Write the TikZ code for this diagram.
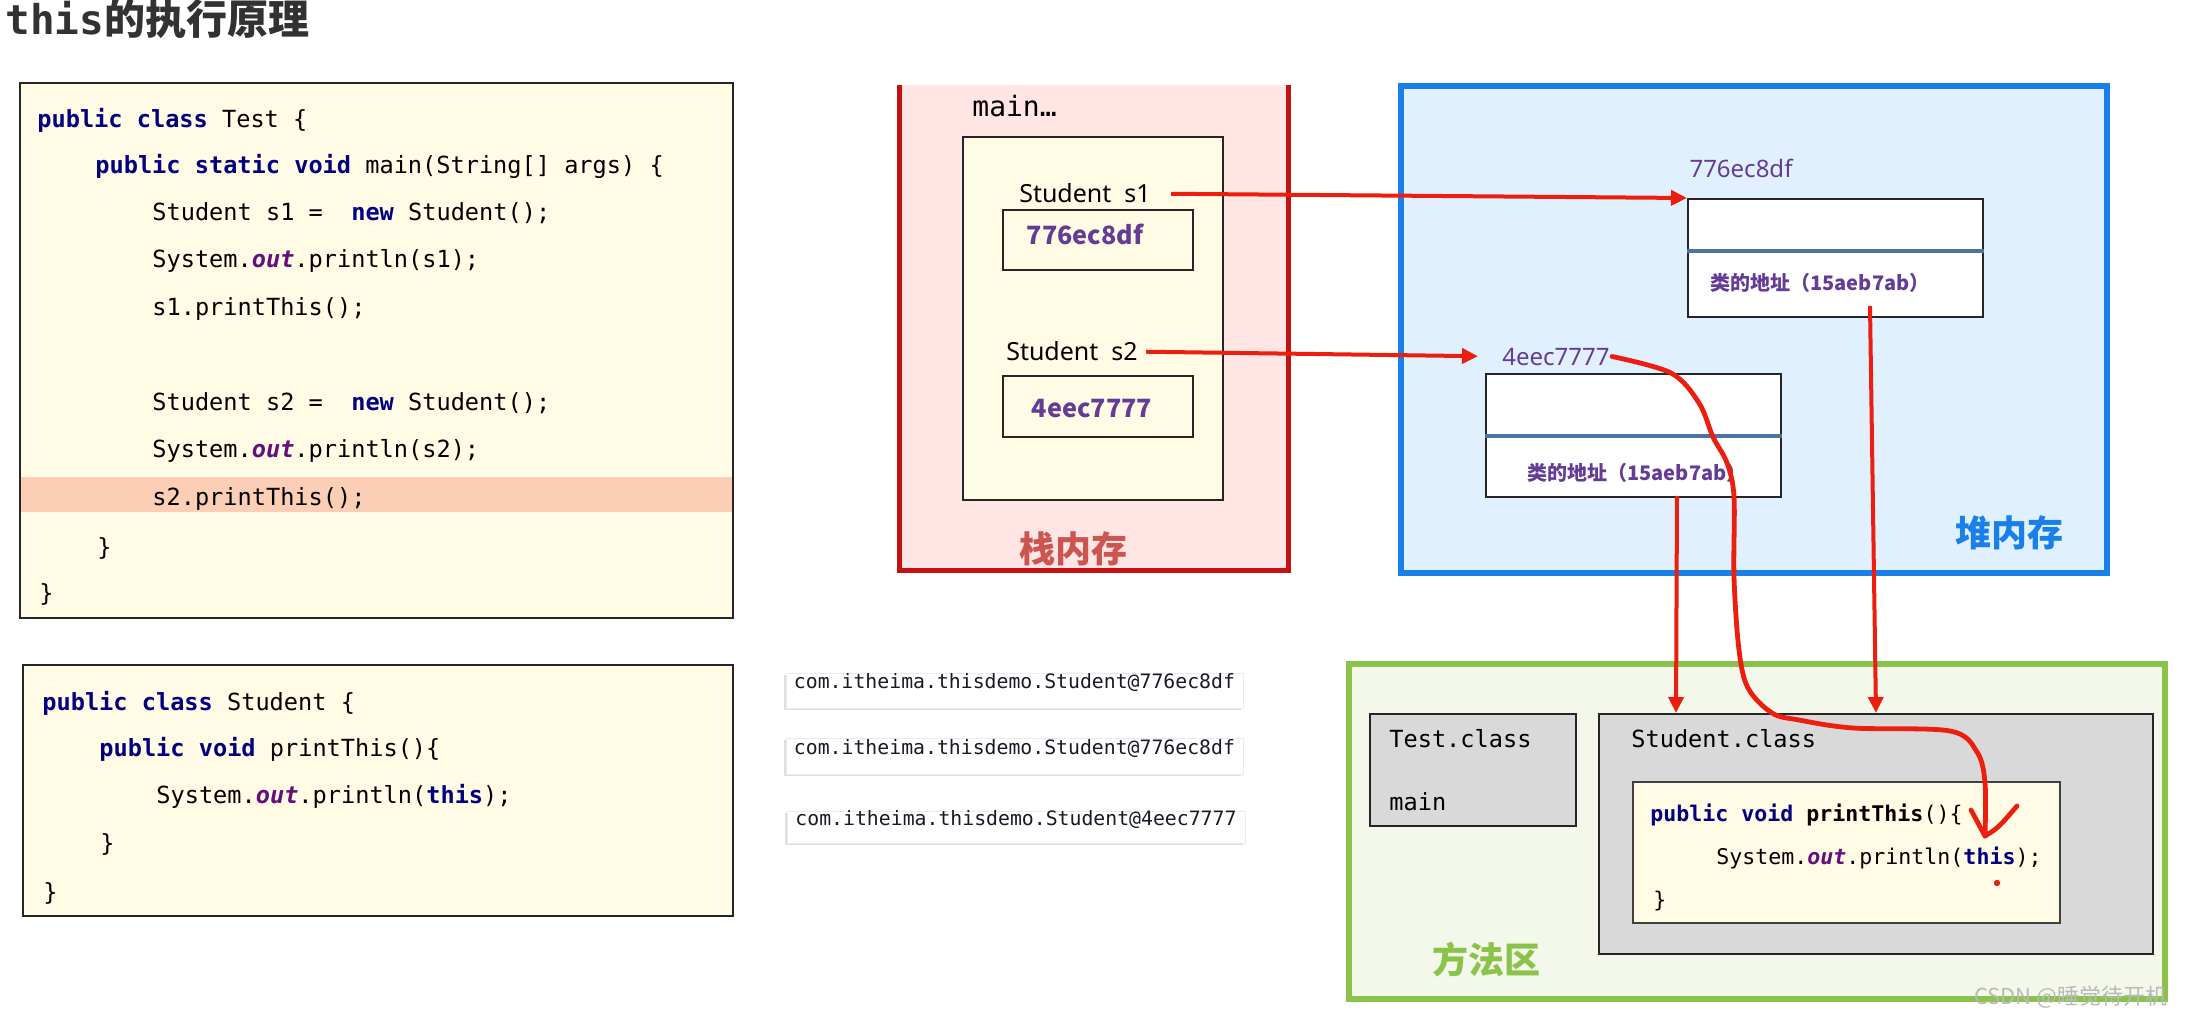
\documentclass[tikz,border=0pt]{standalone}
\usepackage{fontspec}
\setmainfont{Noto Sans}
\setmonofont{DejaVu Sans Mono}
\newfontfamily\cjk{Noto Sans CJK SC}
\usetikzlibrary{arrows.meta,fit,calc,shadows}

\definecolor{codeyellow}{RGB}{255,251,229}
\definecolor{hlpink}{RGB}{252,206,182}
\definecolor{stackpink}{RGB}{255,229,227}
\definecolor{stackred}{RGB}{196,18,18}
\definecolor{stacktext}{RGB}{205,85,80}
\definecolor{heapblue}{RGB}{24,128,232}
\definecolor{heapfill}{RGB}{224,240,255}
\definecolor{methgreen}{RGB}{139,195,74}
\definecolor{methfill}{RGB}{243,248,235}
\definecolor{clsgray}{RGB}{217,217,217}
\definecolor{divblue}{RGB}{79,115,160}
\definecolor{kwnavy}{RGB}{0,0,128}
\definecolor{fieldpurple}{RGB}{102,14,122}
\definecolor{addrpurple}{RGB}{100,60,150}
\definecolor{arrred}{RGB}{235,30,15}
\definecolor{titlegray}{RGB}{50,50,50}
\definecolor{outtext}{RGB}{25,25,40}

\newcommand{\codefont}{\ttfamily\fontsize{11.8}{14}\selectfont}
\newcommand{\smallcode}{\ttfamily\fontsize{10.8}{13}\selectfont}
\newcommand{\kw}[1]{\textcolor{kwnavy}{\bfseries #1}}
\newcommand{\fld}[1]{\textcolor{fieldpurple}{\bfseries\itshape #1}}

\begin{document}
\begin{tikzpicture}[x=0.5pt,y=-0.5pt]
    \tikzstyle{box}=[inner sep=0pt, line width=1pt, draw=black!85]
    \tikzstyle{code box}=[box, fill=codeyellow]
    \tikzstyle{codeline}=[anchor=base west, inner sep=0pt, font=\codefont]
    \tikzstyle{small codeline}=[anchor=base west, inner sep=0pt, font=\smallcode]
    \tikzstyle{out box}=[inner sep=0pt, fill=white, draw=black!8, font=\ttfamily\fontsize{9.9}{12}\selectfont, text=outtext,
        drop shadow={shadow xshift=-1.2pt, shadow yshift=-1.2pt, opacity=0.25}]
    \tikzstyle{obj box}=[box, fill=white]
    \tikzstyle{addr}=[inner sep=0pt, text=addrpurple, font=\cjk\bfseries\fontsize{12.6}{14}\selectfont]
    \tikzstyle{area title}=[inner sep=0pt, font=\cjk\bfseries\fontsize{18}{20}\selectfont]
    \tikzstyle{red arrow}=[draw=arrred, line width=2pt, -{Triangle[length=8pt,width=7.5pt]}]
    \tikzstyle{scribble}=[draw=arrred, line width=2.4pt, line cap=round, line join=round]

    \useasboundingbox (0,0) rectangle (2186,1016);
    \fill[white] (0,0) rectangle (2186,1016);

    \node[anchor=base west, inner sep=0pt, text=titlegray] (title) at (5,35)
        {\fontsize{20.5}{24}\selectfont\ttfamily\bfseries this\cjk\bfseries 的执行原理};

    % Test class
    \node[code box, fit={(20,83) (733,618)}] (testbox) {};
    \fill[hlpink] (21,477) rectangle (732,512);
    \node[codeline] (t1) at (37,128) {\kw{public} \kw{class} Test \{};
    \node[codeline] (t2) at (95,174) {\kw{public} \kw{static} \kw{void} main(String[] args) \{};
    \node[codeline] (t3) at (152,221) {Student s1 =\ \ \kw{new} Student();};
    \node[codeline] (t4) at (152,268) {System.\fld{out}.println(s1);};
    \node[codeline] (t5) at (152,316) {s1.printThis();};
    \node[codeline] (t6) at (152,410) {Student s2 =\ \ \kw{new} Student();};
    \node[codeline] (t7) at (152,458) {System.\fld{out}.println(s2);};
    \node[codeline] (t8) at (152,505) {s2.printThis();};
    \node[codeline] (t9) at (97,555) {\}};
    \node[codeline] (t10) at (39,601) {\}};

    % Student class
    \node[code box, fit={(23,665) (733,916)}] (stubox) {};
    \node[codeline] (u1) at (42,710) {\kw{public} \kw{class} Student \{};
    \node[codeline] (u2) at (99,756) {\kw{public} \kw{void} printThis()\{};
    \node[codeline] (u3) at (156,803) {System.\fld{out}.println(\kw{this});};
    \node[codeline] (u4) at (100,851) {\}};
    \node[codeline] (u5) at (43,900) {\}};

    % Console output
    \node[out box, fit={(786,673) (1243,708)}] (out1) {com.itheima.thisdemo.Student@776ec8df};
    \node[out box, fit={(786,738) (1243,774)}] (out2) {com.itheima.thisdemo.Student@776ec8df};
    \node[out box, fit={(787,811) (1245,843)}] (out3) {com.itheima.thisdemo.Student@4eec7777};

    % Stack
    \node[inner sep=0pt, fill=stackpink, fit={(900,85) (1288,570)}] (stack) {};
    \draw[stackred, line width=2.8pt] (stack.north west) -- (stack.south west) -- (stack.south east) -- (stack.north east);
    \node[code box, fit={(963,137) (1223,500)}] (frame) {};
    \node[anchor=base west, inner sep=0pt, font=\ttfamily\fontsize{14}{16}\selectfont] (mainlbl) at (972,117) {main…};
    \node[anchor=base, inner sep=0pt, font=\fontsize{12.5}{14}\selectfont] (s1lbl) at (1085,203) {Student\ \ s1};
    \node[code box, fit={(1003,210) (1193,270)}] (v1) {};
    \node[addr, anchor=base] (v1txt) at (1085,245) {776ec8df};
    \node[anchor=base, inner sep=0pt, font=\fontsize{12.5}{14}\selectfont] (s2lbl) at (1072,361) {Student\ \ s2};
    \node[code box, fit={(1003,376) (1193,437)}] (v2) {};
    \node[addr, anchor=base] (v2txt) at (1092,417) {4eec7777};
    \node[area title, text=stacktext] (stacklbl) at (1073,549) {栈内存};

    % Heap
    \node[inner sep=0pt, fill=heapfill, draw=heapblue, line width=2.6pt, fit={(1401,86) (2107,573)}] (heap) {};
    \node[inner sep=0pt, text=addrpurple, font=\fontsize{12}{14}\selectfont, anchor=base] (h1lbl) at (1741,178) {776ec8df};
    \node[obj box, fit={(1688,199) (1983,317)}] (h1) {};
    \coordinate (d1) at (0,251);
    \draw[divblue, line width=2pt] (h1.west |- d1) -- (h1.east |- d1);
    \node[inner sep=0pt, text=addrpurple, font=\cjk\bfseries\fontsize{10}{12}\selectfont] (h1txt) at (1820,283) {类的地址（15aeb7ab）};
    \node[inner sep=1pt, text=addrpurple, font=\fontsize{12}{14}\selectfont, anchor=base] (h2lbl) at (1556,365) {4eec7777};
    \node[obj box, fit={(1486,374) (1781,497)}] (h2) {};
    \coordinate (d2) at (0,436);
    \draw[divblue, line width=2pt] (h2.west |- d2) -- (h2.east |- d2);
    \node[inner sep=0pt, text=addrpurple, font=\cjk\bfseries\fontsize{10}{12}\selectfont] (h2txt) at (1637,473) {类的地址（15aeb7ab）};
    \node[area title, text=heapblue] (heaplbl) at (2009,533) {堆内存};

    % Method area
    \node[inner sep=0pt, fill=methfill, draw=methgreen, line width=2.6pt, fit={(1349,664) (2165,999)}] (meth) {};
    \node[box, fill=clsgray, fit={(1370,714) (1576,826)}] (testcls) {};
    \node[codeline] (tc1) at (1389,747) {Test.class};
    \node[codeline] (tc2) at (1389,810) {main};
    \node[box, fill=clsgray, fit={(1599,714) (2153,954)}] (stucls) {};
    \node[codeline] (sc1) at (1631,747) {Student.class};
    \node[inner sep=0pt, fill=codeyellow, draw=black!75, line width=0.6pt, fit={(1633,782) (2060,923)}] (method) {};
    \node[small codeline] (m1) at (1650,821) {\kw{public} \kw{void} \textbf{printThis}()\{};
    \node[small codeline] (m2) at (1716,864) {System.\fld{out}.println(\kw{this});};
    \node[small codeline] (m3) at (1653,907) {\}};
    \node[area title, text=methgreen] (methlbl) at (1486,960) {方法区};

    % References
    \draw[red arrow, shorten <=10pt] (s1lbl.east) -- (h1.north west);
    \draw[red arrow, shorten <=4pt, shorten >=11pt] (s2lbl.east) -- (h2lbl.west);
    \draw[red arrow] ($(h2.south west)+(192,-2)$) -- ($(stucls.north west)+(78,0)$);
    \draw[red arrow] ($(h1.south west)+(183,-12)$) -- ($(stucls.north west)+(278,0)$);

    % this -> s2
    \coordinate (thisTip) at (1985,836);
    \draw[scribble] plot[smooth, tension=0.55] coordinates {(h2lbl.east) (1671,373) (1699,403) (1713,437)
        (1727,463) (1734,497) (1734,577) (1739,650) (1748,688) (1772,713) (1799,720) (1853,728)
        (1950,731) (1977,752) (1985,783) (thisTip)};
    \draw[scribble] (1971,810) -- (thisTip) .. controls (1998,828) .. (2017,806);
    \fill[arrred] (1997,883) circle (1.6pt);

    \node[anchor=east, inner sep=0pt, text=gray!55, font=\cjk\fontsize{11}{13}\selectfont] (mark) at (2168,997) {CSDN @睡觉待开机};
\end{tikzpicture}
\end{document}
